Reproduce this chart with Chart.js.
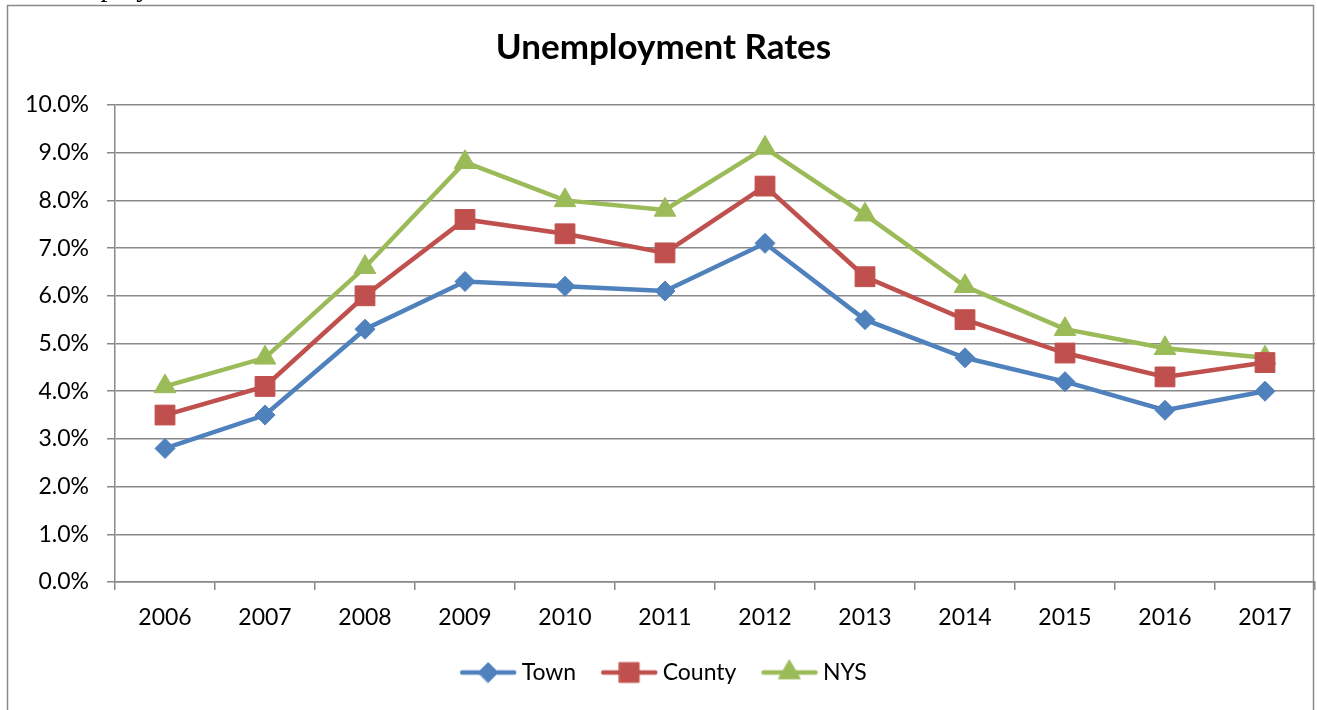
<!DOCTYPE html>
<html>
<head>
<meta charset="utf-8">
<script src="https://cdn.jsdelivr.net/npm/chart.js@4/dist/chart.umd.min.js"></script>
<style>
html,body{margin:0;padding:0;background:#fff;overflow:hidden;}
#wrap{position:relative;width:1317px;height:710px;}
#cut{position:absolute;left:32px;top:-27px;font-family:"Liberation Serif";font-size:28px;line-height:28px;color:#000;white-space:nowrap;}
</style>
</head>
<body>
<div id="wrap">
<canvas id="unempChart" width="1317" height="710"></canvas>
<div id="cut">Unemployment</div>
</div>
<script>
const years = ["2006","2007","2008","2009","2010","2011","2012","2013","2014","2015","2016","2017"];
const town = [2.8,3.5,5.3,6.3,6.2,6.1,7.1,5.5,4.7,4.2,3.6,4.0];
const county = [3.5,4.1,6.0,7.6,7.3,6.9,8.3,6.4,5.5,4.8,4.3,4.6];
const nys = [4.1,4.7,6.6,8.8,8.0,7.8,9.1,7.7,6.2,5.3,4.9,4.7];

const gridGray = "#898989";
const font = "Lato";

// little line + marker picture for each legend entry
function legendIcon(color, style, r) {
  const c = document.createElement("canvas");
  c.width = 72; c.height = 30;
  const ctx = c.getContext("2d");
  ctx.strokeStyle = color;
  ctx.lineWidth = 4.5;
  ctx.lineCap = "round";
  ctx.beginPath();
  ctx.moveTo(13, 15);
  ctx.lineTo(65, 15);
  ctx.stroke();
  ctx.fillStyle = color;
  ctx.lineWidth = 1;
  Chart.helpers.drawPoint(ctx, {pointStyle: style, radius: r, borderWidth: 1, rotation: 0}, 39, 15);
  return c;
}

const outerBox = {
  id: "outerBox",
  afterDraw(chart) {
    const ctx = chart.ctx;
    ctx.save();
    ctx.strokeStyle = gridGray;
    ctx.lineWidth = 1.5;
    ctx.strokeRect(7.5, 5.5, 1306, 800);
    ctx.restore();
  }
};

function series(label, data, color, style, r) {
  return {
    label: label,
    data: data,
    borderColor: color,
    backgroundColor: color,
    borderWidth: 4.5,
    pointStyle: style,
    pointRadius: r,
    pointHoverRadius: r,
    pointBorderWidth: 1,
    pointBackgroundColor: color,
    pointBorderColor: color,
    tension: 0,
    fill: false,
    icon: legendIcon(color, style, r)
  };
}

new Chart(document.getElementById("unempChart"), {
  type: "line",
  data: {
    labels: years,
    datasets: [
      series("Town", town, "#4F81BD", "rectRot", 10),
      series("County", county, "#C0504D", "rect", 14),
      series("NYS", nys, "#9BBB59", "triangle", 12.5)
    ]
  },
  options: {
    responsive: false,
    animation: false,
    layout: {autoPadding: false, padding: {left: 12, right: 2, top: 0, bottom: 16}},
    plugins: {
      title: {
        display: true,
        text: "Unemployment Rates",
        color: "#000",
        font: {family: font, size: 35, weight: "bold"},
        padding: {top: 27, bottom: 36}
      },
      legend: {
        position: "bottom",
        labels: {
          usePointStyle: true,
          pointStyleWidth: 50,
          padding: 25,
          color: "#000",
          font: {family: font, size: 23},
          generateLabels(chart) {
            return chart.data.datasets.map((ds, i) => ({
              text: ds.label,
              pointStyle: ds.icon,
              fillStyle: ds.borderColor,
              strokeStyle: ds.borderColor,
              lineWidth: 0,
              datasetIndex: i,
              hidden: false
            }));
          }
        }
      },
      tooltip: {enabled: false}
    },
    scales: {
      x: {
        offset: true,
        afterFit(scale) {
          scale.height = 54;
          scale.paddingLeft = 0;
          scale.paddingRight = 0;
        },
        grid: {
          display: true,
          offset: true,
          drawOnChartArea: false,
          drawTicks: true,
          tickLength: 8,
          color: gridGray,
          lineWidth: 1.5
        },
        border: {display: true, color: gridGray, width: 1.5},
        ticks: {color: "#000", font: {family: font, size: 23}, padding: 14, maxRotation: 0}
      },
      y: {
        min: 0,
        max: 10,
        afterFit(scale) { scale.width = 103; },
        grid: {color: gridGray, lineWidth: 1.5, tickLength: 8},
        border: {display: true, color: gridGray, width: 1.5},
        ticks: {
          stepSize: 1,
          color: "#000",
          font: {family: font, size: 23},
          padding: 18,
          callback: v => v.toFixed(1) + "%"
        }
      }
    }
  },
  plugins: [outerBox]
});
</script>
</body>
</html>
